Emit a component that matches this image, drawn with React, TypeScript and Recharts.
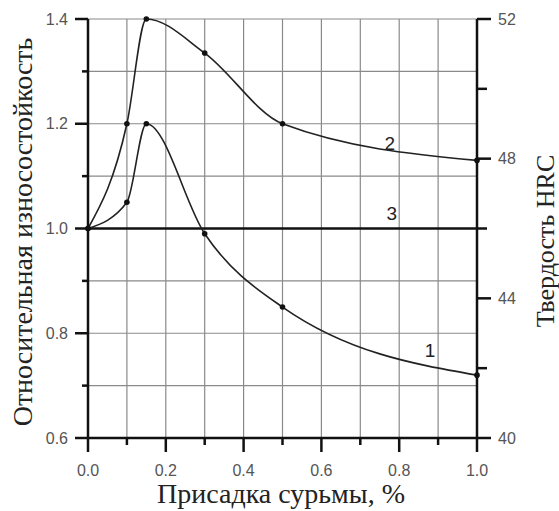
import { ComposedChart, Line, XAxis, YAxis, CartesianGrid, ReferenceDot } from 'recharts'

// присадка сурьмы, %
const antimony = [0, 0.1, 0.15, 0.3, 0.5, 1.0]
// кривая 1 и кривая 2 (относительная износостойкость)
const curve1 = [1.0, 1.05, 1.2, 0.99, 0.85, 0.72]
const curve2 = [1.0, 1.2, 1.4, 1.335, 1.2, 1.13]
// кривая 3 - базовый уровень
const curve3 = [1.0, 1.0, 1.0, 1.0, 1.0, 1.0]

const xTicks = [0, 0.1, 0.2, 0.3, 0.4, 0.5, 0.6, 0.7, 0.8, 0.9, 1.0]
const leftTicks = [0.6, 0.7, 0.8, 0.9, 1.0, 1.1, 1.2, 1.3, 1.4]
const rightTicks = [40, 42, 44, 46, 48, 50, 52]
const rightLabeled = [40, 44, 48, 52]

const curveLabels = [
  { name: '1', x: 0.879, y: 0.768 },
  { name: '2', x: 0.776, y: 1.163 },
  { name: '3', x: 0.781, y: 1.03 },
]

const data = antimony.map((x, i) => ({ x, c1: curve1[i], c2: curve2[i], c3: curve3[i] }))

const tickFont = '"Liberation Sans", Arial, sans-serif'
const titleFont = '"Liberation Serif", "Times New Roman", serif'
const tickColor = '#555'

function XTick({ x, y, payload }: any) {
  const v = payload.value
  const major = Math.round(v * 10) % 2 === 0
  return (
    <g>
      <line x1={x} x2={x} y1={y} y2={y + (major ? 14 : 7)} stroke="#111" strokeWidth={2.5} />
      {major && (
        <text x={x} y={y + 32} textAnchor="middle" dominantBaseline="central" fontSize={16} fontFamily={tickFont} fill={tickColor}>
          {v.toFixed(1)}
        </text>
      )}
    </g>
  )
}

function LeftTick({ x, y, payload }: any) {
  const v = payload.value
  const major = Math.round(v * 10) % 2 === 0
  return (
    <g>
      <line x1={x} x2={x - (major ? 13 : 6)} y1={y} y2={y} stroke="#111" strokeWidth={2.5} />
      {major && (
        <text x={x - 20} y={y} textAnchor="end" dominantBaseline="central" fontSize={16} fontFamily={tickFont} fill={tickColor}>
          {v.toFixed(1)}
        </text>
      )}
    </g>
  )
}

function RightTick({ x, y, payload }: any) {
  const v = payload.value
  const major = rightLabeled.includes(v)
  return (
    <g>
      <line x1={x} x2={x + (major ? 14 : 10)} y1={y} y2={y} stroke="#111" strokeWidth={2.5} />
      {major && (
        <text x={x + 21} y={y} textAnchor="start" dominantBaseline="central" fontSize={16} fontFamily={tickFont} fill={tickColor}>
          {v}
        </text>
      )}
    </g>
  )
}

const title = (text: string, x: number, y: number, rotate: boolean, size = 28) => () => (
  <text
    x={x}
    y={y}
    transform={rotate ? `rotate(-90, ${x}, ${y})` : undefined}
    textAnchor="middle"
    dominantBaseline={rotate ? 'central' : 'alphabetic'}
    fontSize={size}
    fontFamily={titleFont}
    fill="#222"
  >
    {text}
  </text>
)

export default function App() {
  return (
    <div style={{ position: 'absolute', left: 0, top: 0, width: 559, height: 511, background: '#fff' }}>
      <ComposedChart width={559} height={511} data={data} margin={{ top: 19, right: 0, bottom: 0, left: 0 }}>
        <CartesianGrid yAxisId="left" stroke="#8a8a8a" strokeWidth={1.2} />
        <XAxis
          dataKey="x"
          type="number"
          domain={[0, 1]}
          ticks={xTicks}
          interval={0}
          height={73}
          tickSize={0}
          tickMargin={0}
          tick={<XTick />}
          axisLine={{ stroke: '#111', strokeWidth: 2.5 }}
          label={{ content: title('Присадка сурьмы, %', 281, 503, false) }}
        />
        <YAxis
          yAxisId="left"
          type="number"
          domain={[0.6, 1.4]}
          ticks={leftTicks}
          interval={0}
          width={88}
          tickSize={0}
          tickMargin={0}
          tick={<LeftTick />}
          axisLine={{ stroke: '#111', strokeWidth: 2.5 }}
          label={{ content: title('Относительная износостойкость', 22, 232, true) }}
        />
        <YAxis
          yAxisId="right"
          orientation="right"
          type="number"
          domain={[40, 52]}
          ticks={rightTicks}
          interval={0}
          width={82}
          tickSize={0}
          tickMargin={0}
          tick={<RightTick />}
          axisLine={{ stroke: '#111', strokeWidth: 2.5 }}
          allowDataOverflow
          label={{ content: title('Твердость HRC', 545, 241, true, 26) }}
        />
        <Line yAxisId="left" dataKey="c3" type="linear" stroke="#111" strokeWidth={2.5} dot={false} isAnimationActive={false} />
        <Line
          yAxisId="left"
          dataKey="c2"
          type="monotone"
          stroke="#222"
          strokeWidth={1.6}
          dot={{ r: 2.8, fill: '#111', stroke: '#111', strokeWidth: 0 }}
          isAnimationActive={false}
        />
        <Line
          yAxisId="left"
          dataKey="c1"
          type="monotone"
          stroke="#222"
          strokeWidth={1.6}
          dot={{ r: 2.8, fill: '#111', stroke: '#111', strokeWidth: 0 }}
          isAnimationActive={false}
        />
        {curveLabels.map((l) => (
          <ReferenceDot
            key={l.name}
            yAxisId="left"
            x={l.x}
            y={l.y}
            r={1}
            fill="none"
            stroke="none"
            label={{ value: l.name, position: 'center', fontSize: 19, fontFamily: tickFont, fill: '#222' }}
          />
        ))}
      </ComposedChart>
    </div>
  )
}
